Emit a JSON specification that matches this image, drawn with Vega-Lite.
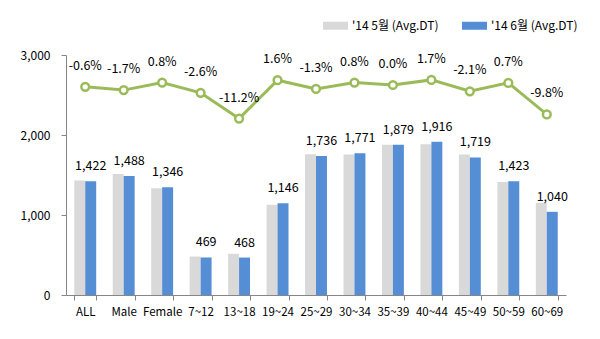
{
  "$schema": "https://vega.github.io/schema/vega-lite/v6.json",
  "width": 500,
  "height": 240,
  "autosize": {"type": "none"},
  "padding": {"left": 66, "top": 55, "right": 34, "bottom": 44},
  "background": "white",
  "config": {
    "view": {"stroke": null},
    "font": "Noto Sans CJK KR",
    "text": {"font": "Noto Sans CJK KR"}
  },
  "datasets": {
    "bars": [
      {"cat": "ALL", "series": "'14 5월 (Avg.DT)", "value": 1431},
      {"cat": "ALL", "series": "'14 6월 (Avg.DT)", "value": 1422},
      {"cat": "Male", "series": "'14 5월 (Avg.DT)", "value": 1514},
      {"cat": "Male", "series": "'14 6월 (Avg.DT)", "value": 1488},
      {"cat": "Female", "series": "'14 5월 (Avg.DT)", "value": 1335},
      {"cat": "Female", "series": "'14 6월 (Avg.DT)", "value": 1346},
      {"cat": "7~12", "series": "'14 5월 (Avg.DT)", "value": 481},
      {"cat": "7~12", "series": "'14 6월 (Avg.DT)", "value": 469},
      {"cat": "13~18", "series": "'14 5월 (Avg.DT)", "value": 515},
      {"cat": "13~18", "series": "'14 6월 (Avg.DT)", "value": 468},
      {"cat": "19~24", "series": "'14 5월 (Avg.DT)", "value": 1128},
      {"cat": "19~24", "series": "'14 6월 (Avg.DT)", "value": 1146},
      {"cat": "25~29", "series": "'14 5월 (Avg.DT)", "value": 1759},
      {"cat": "25~29", "series": "'14 6월 (Avg.DT)", "value": 1736},
      {"cat": "30~34", "series": "'14 5월 (Avg.DT)", "value": 1757},
      {"cat": "30~34", "series": "'14 6월 (Avg.DT)", "value": 1771},
      {"cat": "35~39", "series": "'14 5월 (Avg.DT)", "value": 1879},
      {"cat": "35~39", "series": "'14 6월 (Avg.DT)", "value": 1879},
      {"cat": "40~44", "series": "'14 5월 (Avg.DT)", "value": 1884},
      {"cat": "40~44", "series": "'14 6월 (Avg.DT)", "value": 1916},
      {"cat": "45~49", "series": "'14 5월 (Avg.DT)", "value": 1756},
      {"cat": "45~49", "series": "'14 6월 (Avg.DT)", "value": 1719},
      {"cat": "50~59", "series": "'14 5월 (Avg.DT)", "value": 1413},
      {"cat": "50~59", "series": "'14 6월 (Avg.DT)", "value": 1423},
      {"cat": "60~69", "series": "'14 5월 (Avg.DT)", "value": 1153},
      {"cat": "60~69", "series": "'14 6월 (Avg.DT)", "value": 1040}
    ],
    "change": [
      {"cat": "ALL", "pct": -0.006},
      {"cat": "Male", "pct": -0.017},
      {"cat": "Female", "pct": 0.008},
      {"cat": "7~12", "pct": -0.026},
      {"cat": "13~18", "pct": -0.112},
      {"cat": "19~24", "pct": 0.016},
      {"cat": "25~29", "pct": -0.013},
      {"cat": "30~34", "pct": 0.008},
      {"cat": "35~39", "pct": 0.0},
      {"cat": "40~44", "pct": 0.017},
      {"cat": "45~49", "pct": -0.021},
      {"cat": "50~59", "pct": 0.007},
      {"cat": "60~69", "pct": -0.098}
    ]
  },
  "encoding": {
    "x": {
      "field": "cat",
      "type": "nominal",
      "sort": null,
      "scale": {"paddingInner": 0.43, "paddingOuter": 0.215},
      "axis": {
        "title": null,
        "labelAngle": 0,
        "tickBand": "extent",
        "domainColor": "#868686",
        "tickColor": "#868686",
        "tickSize": 5,
        "labelPadding": 6,
        "labelFontSize": 11.5,
        "labelColor": "#000000",
        "labelFont": "Noto Sans CJK KR"
      }
    }
  },
  "layer": [
    {
      "data": {"name": "bars"},
      "layer": [
        {
          "mark": {"type": "bar"},
          "encoding": {
            "xOffset": {
              "field": "series",
              "type": "nominal",
              "scale": {"domain": ["'14 5월 (Avg.DT)", "'14 6월 (Avg.DT)"], "paddingInner": 0, "paddingOuter": 0}
            },
            "y": {
              "field": "value",
              "type": "quantitative",
              "scale": {"domain": [0, 3000]},
              "axis": {
                "title": null,
                "values": [0, 1000, 2000, 3000],
                "format": ",.0f",
                "grid": false,
                "domainColor": "#868686",
                "tickColor": "#868686",
                "tickSize": 5,
                "labelPadding": 11,
                "labelFontSize": 12,
                "labelColor": "#000000",
                "labelFont": "Noto Sans CJK KR"
              }
            },
            "color": {
              "field": "series",
              "type": "nominal",
              "scale": {"domain": ["'14 5월 (Avg.DT)", "'14 6월 (Avg.DT)"], "range": ["#D9D9D9", "#558ED5"]},
              "legend": {
                "title": null,
                "orient": "none",
                "direction": "horizontal",
                "legendX": 257,
                "legendY": -42,
                "padding": 0,
                "symbolType": "M-1,-0.32L1,-0.32L1,0.32L-1,0.32Z",
                "symbolSize": 625,
                "symbolStrokeWidth": 0,
                "symbolOpacity": 1,
                "labelFontSize": 12,
                "labelFont": "Noto Sans CJK KR",
                "labelColor": "#000000",
                "labelOffset": 4,
                "columnPadding": 23
              }
            }
          }
        },
        {
          "transform": [{"filter": "datum.series === \"'14 6월 (Avg.DT)\""}],
          "mark": {"type": "text", "baseline": "middle", "dy": -15, "fontSize": 12.5, "color": "#000000"},
          "encoding": {
            "xOffset": {"field": "series", "type": "nominal"},
            "y": {"field": "value", "type": "quantitative"},
            "text": {"field": "value", "type": "quantitative", "format": ",.0f"}
          }
        }
      ]
    },
    {
      "data": {"name": "change"},
      "layer": [
        {
          "mark": {"type": "line", "color": "#9BBB59", "strokeWidth": 3},
          "encoding": {
            "y": {"field": "pct", "type": "quantitative", "scale": {"domain": [-0.7, 0.1]}, "axis": null}
          }
        },
        {
          "mark": {"type": "point", "shape": "circle", "filled": true, "fill": "white", "stroke": "#9BBB59", "strokeWidth": 2.5, "size": 60, "opacity": 1},
          "encoding": {
            "y": {"field": "pct", "type": "quantitative"}
          }
        },
        {
          "mark": {
            "type": "text",
            "baseline": "middle",
            "dy": -21,
            "fontSize": 12.5,
            "color": "#000000",
            "text": {"expr": "replace(format(datum.pct, '.1%'), '\u2212', '-')"}
          },
          "encoding": {
            "y": {"field": "pct", "type": "quantitative"}
          }
        }
      ]
    }
  ],
  "resolve": {"scale": {"y": "independent"}}
}
